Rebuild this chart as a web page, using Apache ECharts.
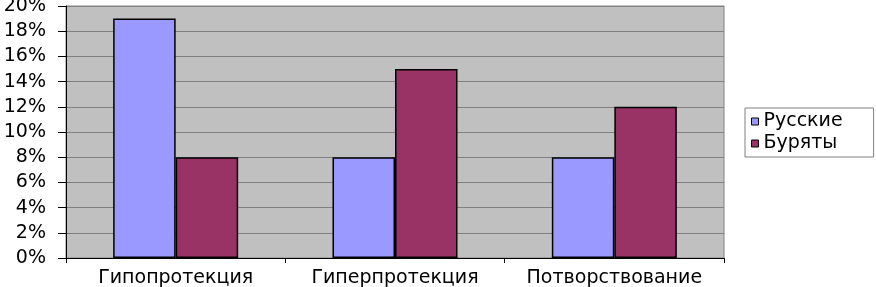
<!DOCTYPE html>
<html><head><meta charset="utf-8">
<script src="https://cdn.jsdelivr.net/npm/echarts@6/dist/echarts.min.js"></script>
<style>html,body{margin:0;padding:0;background:#fff}#c{width:876px;height:287px}</style>
</head><body><div id="c"></div>
<script>
const categories = ['Гипопротекция', 'Гиперпротекция', 'Потворствование'];
const russians = [19, 8, 8];
const buryats = [8, 15, 12];
const seriesNames = ['Русские', 'Буряты'];

const chart = echarts.init(document.getElementById('c'), null, {renderer: 'canvas'});
const font = 'DejaVu Sans, sans-serif';
chart.setOption({
  animation: false,
  backgroundColor: '#fff',
  grid: {left: 66, top: 6, right: 152, bottom: 29, outerBoundsMode: 'none', containLabel: false,
         show: true, backgroundColor: '#C0C0C0', borderColor: '#808080', borderWidth: 1},
  legend: {
    orient: 'vertical', left: 745, top: 108,
    backgroundColor: '#fff', borderColor: '#808080', borderWidth: 1,
    padding: [4, 31, 4, 6], itemGap: 3,
    itemWidth: 7, itemHeight: 7,
    icon: 'rect',
    textStyle: {fontFamily: font, fontSize: 19, color: '#000'},
    data: seriesNames.map(n => ({name: n, itemStyle: {borderColor: '#000', borderWidth: 1}}))
  },
  xAxis: {
    type: 'category', data: categories,
    axisLine: {lineStyle: {color: '#000', width: 1}},
    axisTick: {show: true, length: 5, lineStyle: {color: '#000'}},
    axisLabel: {fontFamily: font, fontSize: 19, color: '#000', margin: 11, interval: 0, hideOverlap: false}
  },
  yAxis: {
    type: 'value', min: 0, max: 20, interval: 2,
    axisLine: {show: true, lineStyle: {color: '#000'}},
    axisTick: {show: true, length: 8, lineStyle: {color: '#000'}},
    axisLabel: {formatter: '{value}%', fontFamily: font, fontSize: 19, color: '#000', margin: 20},
    splitLine: {lineStyle: {color: '#808080', width: 1}}
  },
  series: [
    {name: seriesNames[0], type: 'bar', data: russians, barGap: '0%', barCategoryGap: '43%',
     itemStyle: {color: '#9999FF', borderColor: '#000', borderWidth: 1.5}},
    {name: seriesNames[1], type: 'bar', data: buryats,
     itemStyle: {color: '#993366', borderColor: '#000', borderWidth: 1.5}}
  ]
});
</script></body></html>
